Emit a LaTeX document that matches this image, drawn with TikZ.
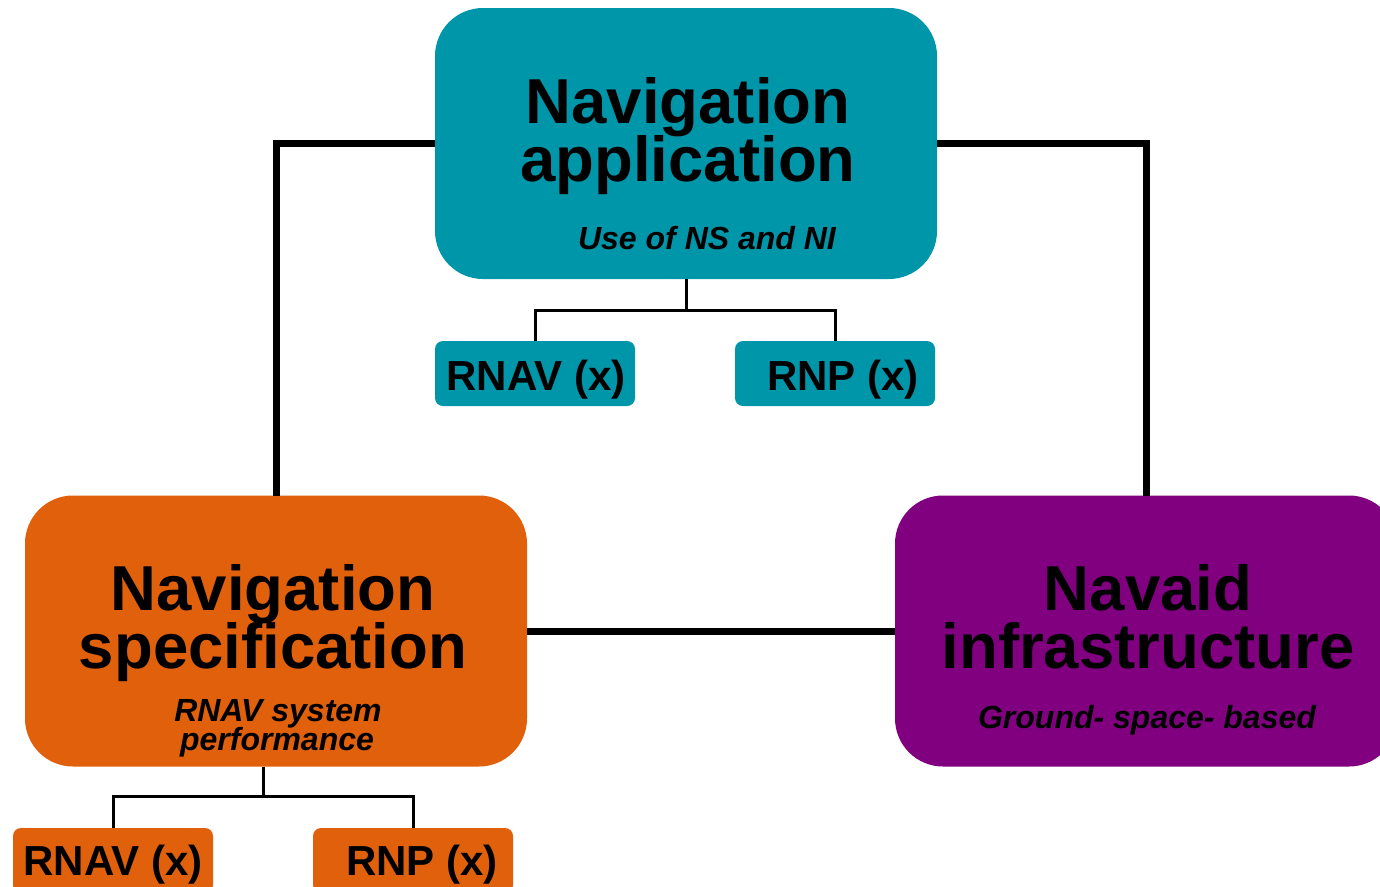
\documentclass[tikz,border=0pt]{standalone}
\usepackage{fontspec}
\setmainfont{Liberation Sans}
\usetikzlibrary{calc}
\definecolor{navteal}{RGB}{0,150,170}
\definecolor{navorange}{RGB}{224,96,11}
\definecolor{navpurple}{RGB}{128,0,128}
\begin{document}
\begin{tikzpicture}[x=1pt,y=-1pt,
  bigbox/.style={draw=none, rounded corners=48pt, minimum width=502pt, minimum height=271pt, inner sep=0pt, outer sep=0pt},
  smallbox/.style={draw=none, rounded corners=8pt, minimum width=200pt, minimum height=65pt, inner sep=0pt, outer sep=0pt},
  titletext/.style={font=\fontsize{63.5}{63.5}\selectfont\bfseries, anchor=base, inner sep=0pt},
  subtext/.style={font=\fontsize{32}{32}\selectfont\bfseries\itshape, anchor=base, inner sep=0pt},
  lbltext/.style={font=\fontsize{42}{42}\selectfont\bfseries, anchor=base, inner sep=0pt},
  mainlink/.style={line width=7pt, draw=black},
  sublink/.style={line width=3pt, draw=black}]
\useasboundingbox (0,0) rectangle (1380,886);
\clip (0,0) rectangle (1380,886);

% main boxes
\node[bigbox, fill=navteal] (app) at (686,143.5) {};
\node[bigbox, fill=navorange] (spec) at (276,631) {};
\node[bigbox, fill=navpurple] (infra) at (1146,631) {};

% small boxes
\node[smallbox, fill=navteal] (rnav1) at (535,373.5) {};
\node[smallbox, fill=navteal] (rnp1) at (835,373.5) {};
\node[smallbox, fill=navorange] (rnav2) at (113,860.5) {};
\node[smallbox, fill=navorange] (rnp2) at (413,860.5) {};

% main connectors
\draw[mainlink] (app.west) -| (spec.north);
\draw[mainlink] (app.east) -| (infra.north);
\draw[mainlink] (spec.east) -- (infra.west);

% sub connectors
\coordinate (j1) at (686,310);
\draw[sublink] (app.south) -- (j1);
\draw[sublink] (rnav1.north) |- (j1) -| (rnp1.north);
\coordinate (j2) at (263.5,796);
\draw[sublink] (j2 |- spec.south) -- (j2);
\draw[sublink] (rnav2.north) |- (j2) -| (rnp2.north);

% texts
\node[titletext] (t1a) at (688,123) {Navigation};
\node[titletext] (t1b) at (688,181) {application};
\node[subtext] (t1c) at (707,249.5) {Use of NS and NI};

\node[titletext] (t2a) at (273,610) {Navigation};
\node[titletext] (t2b) at (273,668) {specification};
\node[subtext] (t2c) at (278,721) {RNAV system};
\node[subtext] (t2d) at (277,750.5) {performance};

\node[titletext] (t3a) at (1148,610) {Navaid};
\node[titletext] (t3b) at (1148,668) {infrastructure};
\node[subtext] (t3c) at (1147,728.5) {Ground- space- based};

\node[lbltext] (l1) at (536,390) {RNAV (x)};
\node[lbltext] (l2) at (843,390) {RNP (x)};
\node[lbltext] (l3) at (113,875) {RNAV (x)};
\node[lbltext] (l4) at (422,875) {RNP (x)};
\end{tikzpicture}
\end{document}
